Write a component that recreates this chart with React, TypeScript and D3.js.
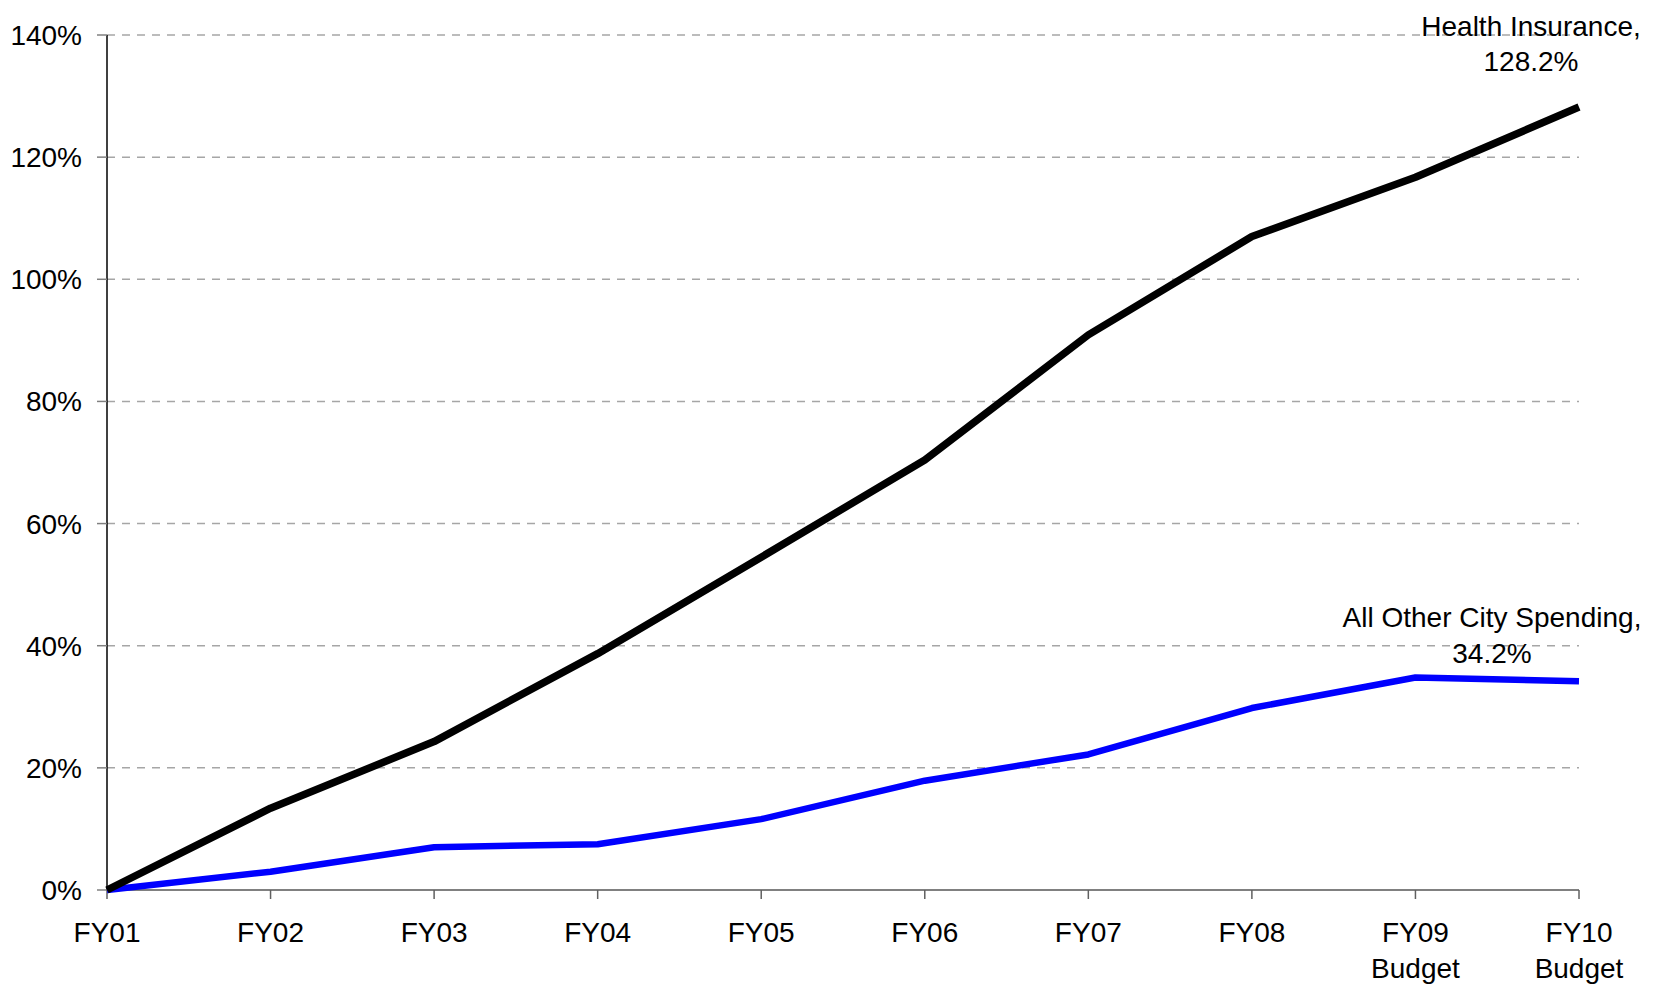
import * as d3 from 'd3';

const years = ['FY01', 'FY02', 'FY03', 'FY04', 'FY05', 'FY06', 'FY07', 'FY08', 'FY09', 'FY10'];
const yearSub = ['', '', '', '', '', '', '', '', 'Budget', 'Budget'];
const healthInsurance = [0, 13.4, 24.3, 38.7, 54.5, 70.4, 90.9, 107.0, 116.7, 128.2];
const otherSpending = [0, 3.0, 7.0, 7.5, 11.6, 17.9, 22.2, 29.8, 34.8, 34.2];
const yTicks = [0, 20, 40, 60, 80, 100, 120, 140];

const W = 1653;
const H = 986;
const m = { left: 107, right: 74, top: 35, bottom: 96 };
const FONT = '"Liberation Sans", Arial, sans-serif';
const FS = 28;

export default function App() {
  const x = d3
    .scalePoint<string>()
    .domain(years)
    .range([m.left, W - m.right]);
  const y = d3
    .scaleLinear()
    .domain([0, 140])
    .range([H - m.bottom, m.top]);

  const line = d3
    .line<number>()
    .x((_, i) => x(years[i])!)
    .y((d) => y(d));

  const x0 = m.left;
  const x1 = W - m.right;
  const y0 = y(0);

  return (
    <svg
      width={W}
      height={H}
      style={{ position: 'absolute', left: 0, top: 0, background: '#fff' }}
      fontFamily={FONT}
    >
      {/* gridlines */}
      {yTicks.slice(1).map((t) => (
        <line
          key={'g' + t}
          x1={x0}
          x2={x1}
          y1={y(t)}
          y2={y(t)}
          stroke="#a6a6a6"
          strokeWidth={1.5}
          strokeDasharray="8,7"
        />
      ))}

      {/* y axis */}
      <line x1={x0} x2={x0} y1={y(140)} y2={y0} stroke="#000" strokeWidth={1.5} />
      {yTicks.map((t) => (
        <g key={'y' + t}>
          <line x1={x0 - 10} x2={x0} y1={y(t)} y2={y(t)} stroke="#808080" strokeWidth={1.5} />
          <text x={82} y={y(t) + 10} textAnchor="end" fontSize={FS} fill="#000">
            {t}%
          </text>
        </g>
      ))}

      {/* x axis */}
      <line x1={x0} x2={x1} y1={y0} y2={y0} stroke="#808080" strokeWidth={2} />
      {years.map((yr, i) => (
        <g key={yr}>
          <line x1={x(yr)} x2={x(yr)} y1={y0} y2={y0 + 9} stroke="#606060" strokeWidth={1.5} />
          <text x={x(yr)} y={942} textAnchor="middle" fontSize={FS} fill="#000">
            {yr}
          </text>
          {yearSub[i] && (
            <text x={x(yr)} y={978} textAnchor="middle" fontSize={FS} fill="#000">
              {yearSub[i]}
            </text>
          )}
        </g>
      ))}

      {/* series */}
      <path d={line(otherSpending)!} fill="none" stroke="#0000ff" strokeWidth={6.5} strokeLinejoin="round" />
      <path d={line(healthInsurance)!} fill="none" stroke="#000" strokeWidth={7.5} strokeLinejoin="round" />

      {/* end labels */}
      <text textAnchor="middle" fontSize={FS} fill="#000">
        <tspan x={1531} y={36}>Health Insurance,</tspan>
        <tspan x={1531} y={71}>128.2%</tspan>
      </text>
      <text textAnchor="middle" fontSize={FS} fill="#000">
        <tspan x={1492} y={627}>All Other City Spending,</tspan>
        <tspan x={1492} y={663}>34.2%</tspan>
      </text>
    </svg>
  );
}
